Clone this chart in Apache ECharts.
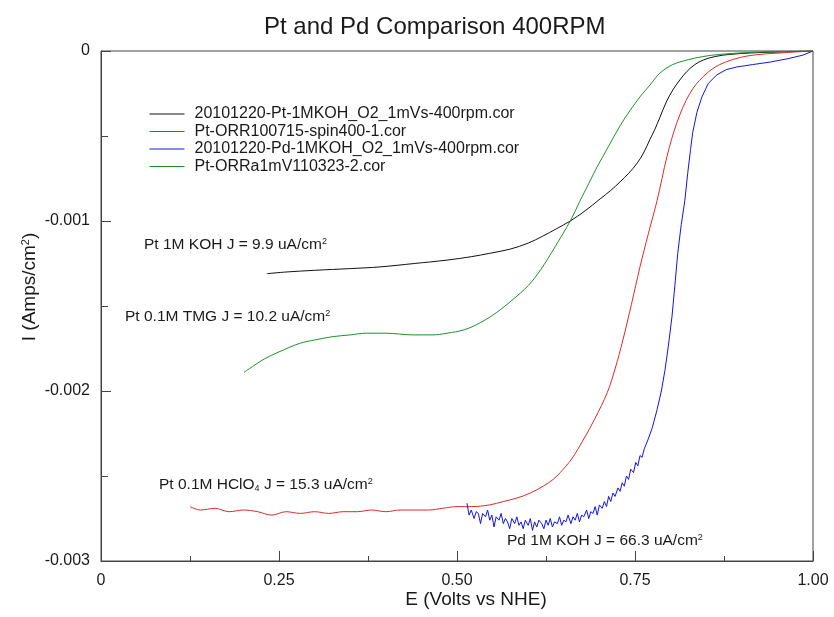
<!DOCTYPE html>
<html>
<head>
<meta charset="utf-8">
<script src="https://cdn.jsdelivr.net/npm/echarts@6/dist/echarts.min.js"></script>
<style>
  html, body { margin: 0; padding: 0; background: #fff; }
  #chart { width: 834px; height: 617px; }
</style>
</head>
<body>
<div id="chart"></div>
<script>
// legend names
const seriesNames = [
  '20101220-Pt-1MKOH_O2_1mVs-400rpm.cor',
  'Pt-ORR100715-spin400-1.cor',
  '20101220-Pd-1MKOH_O2_1mVs-400rpm.cor',
  'Pt-ORRa1mV110323-2.cor'
];

// [E (V vs NHE), I (A/cm2)]
const ptKoh = [
  [0.233, -0.00131], [0.26, -0.00130], [0.30, -0.00129], [0.35, -0.00128], [0.392, -0.00127],
  [0.44, -0.00125], [0.486, -0.00123], [0.52, -0.00121], [0.546, -0.00119], [0.575, -0.001165],
  [0.60, -0.00113], [0.62, -0.00109], [0.64, -0.001045], [0.659, -0.00100], [0.68, -0.00094],
  [0.701, -0.00087], [0.716, -0.00082], [0.729, -0.00077], [0.741, -0.00072], [0.753, -0.00066],
  [0.762, -0.00060], [0.771, -0.00052], [0.778, -0.00046], [0.785, -0.00039], [0.794, -0.00030],
  [0.803, -0.00023], [0.813, -0.00017], [0.823, -0.00012], [0.834, -0.00008], [0.846, -0.000053],
  [0.862, -0.000033], [0.883, -0.00002], [0.92, -0.00001], [0.96, -0.000005], [1.0, 0]
];

const ptHclo4 = [
  [0.125, -0.00268], [0.14, -0.00270], [0.16, -0.00269], [0.18, -0.00271], [0.20, -0.00270],
  [0.22, -0.00271], [0.24, -0.00273], [0.26, -0.00271], [0.28, -0.00272], [0.30, -0.00271],
  [0.32, -0.00272], [0.34, -0.00271], [0.36, -0.00271], [0.38, -0.00270], [0.40, -0.00271],
  [0.42, -0.00270], [0.44, -0.00270], [0.46, -0.00270], [0.48, -0.00269], [0.50, -0.00268],
  [0.52, -0.00268], [0.546, -0.00267], [0.565, -0.00265], [0.584, -0.00263], [0.603, -0.00260],
  [0.621, -0.00256], [0.635, -0.00252], [0.645, -0.00248], [0.661, -0.00240], [0.677, -0.00229],
  [0.694, -0.00216], [0.711, -0.00201], [0.722, -0.00187], [0.733, -0.00170], [0.745, -0.00149],
  [0.757, -0.00127], [0.769, -0.00107], [0.781, -0.00088], [0.795, -0.00062], [0.809, -0.00042],
  [0.827, -0.00025], [0.846, -0.00015], [0.869, -0.00008], [0.907, -0.00003], [0.96, -0.00001],
  [1.0, 0]
];

const pdKoh = [
  [0.514, -0.00266], [0.517, -0.00273], [0.520, -0.00270], [0.524, -0.00275], [0.527, -0.00271],
  [0.530, -0.00272], [0.533, -0.00278], [0.536, -0.00272], [0.540, -0.00274], [0.543, -0.00270],
  [0.546, -0.00276], [0.549, -0.00273], [0.552, -0.00280], [0.555, -0.00274], [0.559, -0.00276],
  [0.562, -0.00272], [0.565, -0.00278], [0.568, -0.00275], [0.571, -0.00277], [0.574, -0.00281],
  [0.577, -0.00275], [0.581, -0.00278], [0.584, -0.00274], [0.587, -0.00279], [0.590, -0.00277],
  [0.593, -0.00281], [0.596, -0.00276], [0.600, -0.00279], [0.603, -0.00275], [0.606, -0.00282],
  [0.609, -0.00277], [0.612, -0.00280], [0.615, -0.00276], [0.619, -0.00278], [0.622, -0.00281],
  [0.625, -0.00276], [0.628, -0.00279], [0.631, -0.00275], [0.634, -0.00280], [0.637, -0.00277],
  [0.641, -0.00278], [0.644, -0.00274], [0.647, -0.00279], [0.650, -0.00276], [0.653, -0.00277],
  [0.656, -0.00273], [0.660, -0.00278], [0.663, -0.00274], [0.666, -0.00276], [0.669, -0.00272],
  [0.672, -0.00277], [0.675, -0.00273], [0.678, -0.00274], [0.682, -0.00270], [0.685, -0.00275],
  [0.688, -0.00271], [0.691, -0.00272], [0.694, -0.00268], [0.697, -0.00273], [0.700, -0.00267],
  [0.704, -0.00269], [0.707, -0.00265], [0.710, -0.00268], [0.713, -0.00262], [0.716, -0.00265],
  [0.719, -0.00260], [0.722, -0.00262], [0.726, -0.00257], [0.729, -0.00259], [0.732, -0.00254],
  [0.735, -0.00256], [0.738, -0.00250], [0.741, -0.00252], [0.744, -0.00246], [0.748, -0.00248],
  [0.751, -0.00242], [0.754, -0.00244], [0.757, -0.00238], [0.760, -0.00239], [0.763, -0.00234],
  [0.767, -0.00230], [0.774, -0.00222], [0.781, -0.00211], [0.787, -0.00200], [0.792, -0.00188],
  [0.797, -0.00173], [0.802, -0.00156], [0.806, -0.00138], [0.810, -0.00119], [0.815, -0.00102],
  [0.820, -0.00088], [0.824, -0.00072], [0.828, -0.00058], [0.831, -0.00048], [0.837, -0.00036],
  [0.844, -0.00027], [0.853, -0.00019], [0.865, -0.00014], [0.878, -0.00011], [0.893, -0.000094],
  [0.915, -0.00008], [0.94, -0.000065], [0.965, -0.000045], [0.986, -0.000024], [1.0, 0]
];

const ptTmg = [
  [0.201, -0.00189], [0.215, -0.00185], [0.23, -0.00181], [0.25, -0.00177], [0.279, -0.00172],
  [0.30, -0.00170], [0.326, -0.00168], [0.35, -0.00167], [0.373, -0.00166], [0.40, -0.00166],
  [0.438, -0.00167], [0.465, -0.00167], [0.486, -0.00166], [0.51, -0.00164], [0.532, -0.00160],
  [0.555, -0.00154], [0.579, -0.00146], [0.60, -0.00138], [0.617, -0.00129], [0.638, -0.00115],
  [0.659, -0.00100], [0.673, -0.00088], [0.685, -0.00078], [0.697, -0.00068], [0.713, -0.00056],
  [0.729, -0.00044], [0.743, -0.00035], [0.757, -0.00027], [0.771, -0.00020], [0.785, -0.00013],
  [0.803, -0.00008], [0.823, -0.000053], [0.845, -0.000033], [0.869, -0.00002], [0.92, -0.000007],
  [1.0, 0]
];

const FONT = '"Liberation Sans", Arial, sans-serif';
const textColor = '#1a1a1a';
const axisColor = '#444';

const chart = echarts.init(document.getElementById('chart'));

function note(x, y, parts) {
  return {
    type: 'text',
    x: x,
    y: y,
    style: {
      text: parts,
      fontFamily: FONT,
      fontSize: 15.5,
      fill: textColor,
      verticalAlign: 'middle',
      rich: {
        sup: { fontSize: 9, verticalAlign: 'top', fontFamily: FONT, fill: textColor },
        sub: { fontSize: 9, verticalAlign: 'bottom', fontFamily: FONT, fill: textColor }
      }
    }
  };
}

function line(name, data, color, smooth) {
  return {
    name: name,
    type: 'line',
    data: data,
    symbol: 'none',
    smooth: smooth,
    lineStyle: { color: color, width: 1 },
    itemStyle: { color: color },
    animation: false
  };
}

const option = {
  animation: false,
  backgroundColor: '#fff',
  title: {
    text: 'Pt and Pd Comparison 400RPM',
    left: 259,
    top: 10,
    textStyle: { fontFamily: FONT, fontSize: 24, fontWeight: 'normal', color: textColor }
  },
  legend: {
    data: seriesNames,
    orient: 'vertical',
    left: 149,
    top: 106,
    padding: 0,
    itemWidth: 35,
    itemHeight: 14,
    itemGap: 1.5,
    itemStyle: { opacity: 0 },
    lineStyle: { width: 1 },
    textStyle: { fontFamily: FONT, fontSize: 16, color: textColor, padding: [0, 0, 0, 5] }
  },
  grid: {
    left: 101,
    right: 21,
    top: 51,
    bottom: 56,
    show: true,
    borderColor: axisColor,
    borderWidth: 1
  },
  xAxis: {
    type: 'value',
    min: 0,
    max: 1,
    interval: 0.25,
    axisLine: { show: true, onZero: false, lineStyle: { color: axisColor } },
    axisTick: { show: true, inside: true, length: 10, lineStyle: { color: axisColor } },
    minorTick: { show: true, splitNumber: 2, length: 5, lineStyle: { color: axisColor } },
    splitLine: { show: false },
    axisLabel: {
      margin: 12,
      fontFamily: FONT,
      fontSize: 16,
      color: textColor,
      formatter: function (v) { return v === 0 ? '0' : v.toFixed(2); }
    }
  },
  yAxis: {
    type: 'value',
    min: -0.003,
    max: 0,
    interval: 0.001,
    axisLine: { show: true, onZero: false, lineStyle: { color: axisColor } },
    axisTick: { show: true, inside: true, length: 10, lineStyle: { color: axisColor } },
    minorTick: { show: true, splitNumber: 2, length: 7, lineStyle: { color: axisColor } },
    splitLine: { show: false },
    axisLabel: {
      margin: 11,
      fontFamily: FONT,
      fontSize: 16,
      color: textColor,
      formatter: function (v) { return v === 0 ? '0' : v.toFixed(3); }
    }
  },
  graphic: [
    {
      type: 'text',
      x: 476,
      y: 600,
      style: {
        text: 'E (Volts vs NHE)',
        fontFamily: FONT,
        fontSize: 19,
        fill: textColor,
        align: 'center',
        verticalAlign: 'middle'
      }
    },
    {
      type: 'text',
      x: 30,
      y: 287,
      rotation: Math.PI / 2,
      style: {
        text: 'I (Amps/cm{sup|2})',
        fontFamily: FONT,
        fontSize: 19,
        fill: textColor,
        align: 'center',
        verticalAlign: 'middle',
        rich: { sup: { fontSize: 11, verticalAlign: 'top', fontFamily: FONT, fill: textColor } }
      }
    },
    note(144, 245, 'Pt 1M KOH J = 9.9 uA/cm{sup|2}'),
    note(125, 317, 'Pt 0.1M TMG J = 10.2 uA/cm{sup|2}'),
    note(159, 485, 'Pt 0.1M HClO{sub|4} J = 15.3 uA/cm{sup|2}'),
    note(507, 541, 'Pd 1M KOH J = 66.3 uA/cm{sup|2}')
  ],
  series: [
    line(seriesNames[0], ptKoh, '#111111', 0.35),
    line(seriesNames[1], ptHclo4, '#dd2a2a', 0.35),
    line(seriesNames[2], pdKoh, '#1414e6', false),
    line(seriesNames[3], ptTmg, '#1f8f2a', 0.35)
  ]
};

chart.setOption(option);
</script>
</body>
</html>
